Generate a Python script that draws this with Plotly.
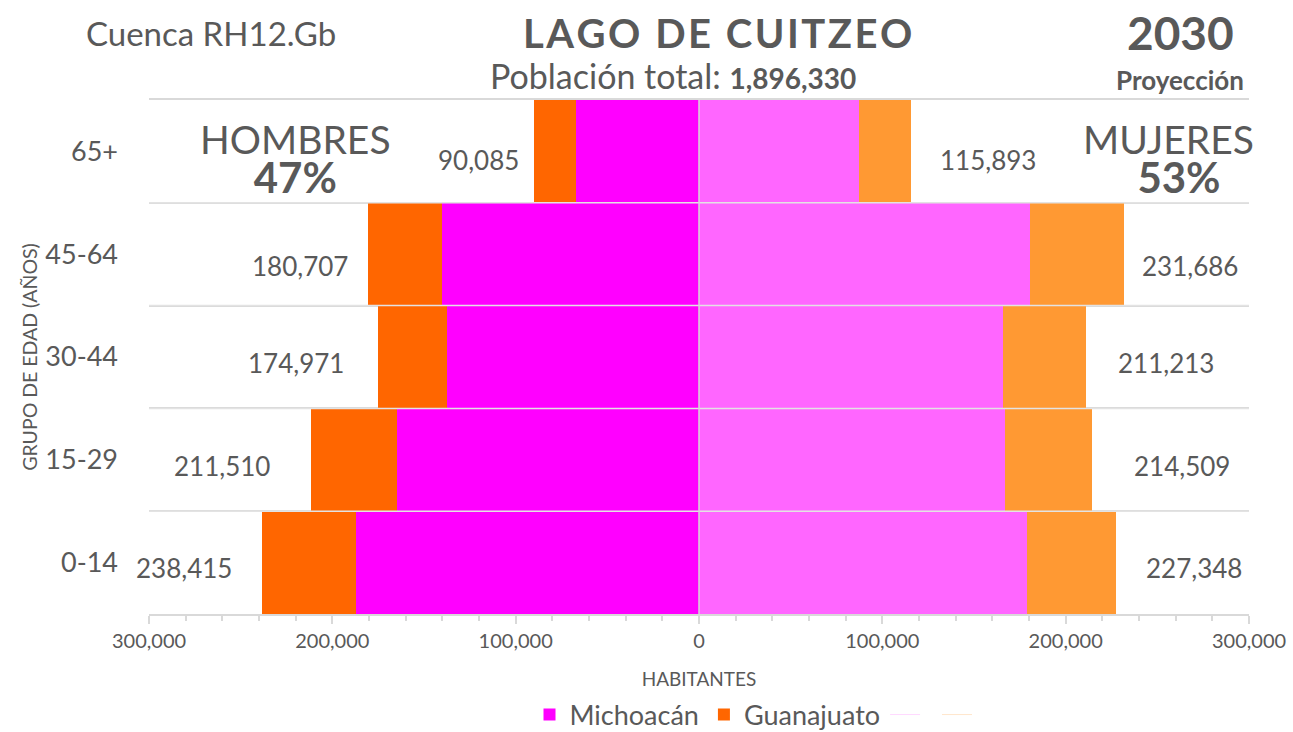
import plotly.graph_objects as go

# Age groups, bottom to top
age_groups = ["0-14", "15-29", "30-44", "45-64", "65+"]

# Men (drawn to the left)
men_michoacan = [187100, 164700, 137500, 140200, 67100]
men_guanajuato = [51315, 46810, 37471, 40507, 22985]
men_total = [238415, 211510, 174971, 180707, 90085]

# Women (drawn to the right)
women_michoacan = [178900, 166900, 165800, 180500, 87300]
women_guanajuato = [48448, 47609, 45413, 51186, 28593]
women_total = [227348, 214509, 211213, 231686, 115893]

tick_values = [-300000, -200000, -100000, 0, 100000, 200000, 300000]
tick_labels = ["300,000", "200,000", "100,000", "0", "100,000", "200,000", "300,000"]

GRAY = "#595959"
RULE = "#D9D9D9"
FONT = "Lato"

# plot area in pixels
W, H = 1293, 732
PX0, PX1, PY0, PY1 = 149, 1249, 100, 614


def px(x):
    return (x - PX0) / (PX1 - PX0)


def py(y):
    return (PY1 - y) / (PY1 - PY0)


fig = go.Figure()
fig.add_trace(go.Bar(y=age_groups, x=[-v for v in men_michoacan], orientation="h",
                     name="Michoacán", marker=dict(color="#FF00FF", line=dict(width=0)),
                     hoverinfo="skip"))
fig.add_trace(go.Bar(y=age_groups, x=[-v for v in men_guanajuato], orientation="h",
                     name="Guanajuato", marker=dict(color="#FF6600", line=dict(width=0)),
                     hoverinfo="skip"))
fig.add_trace(go.Bar(y=age_groups, x=women_michoacan, orientation="h",
                     name="", showlegend=False,
                     marker=dict(color="#FF66FF", line=dict(width=0)), hoverinfo="skip"))
fig.add_trace(go.Bar(y=age_groups, x=women_guanajuato, orientation="h",
                     name="", showlegend=False,
                     marker=dict(color="#FF9933", line=dict(width=0)), hoverinfo="skip"))
# faint unnamed legend entries
fig.add_trace(go.Scatter(x=[None], y=[None], mode="lines", name=" ",
                         line=dict(color="#FFD9FF", width=1)))
fig.add_trace(go.Scatter(x=[None], y=[None], mode="lines", name=" ",
                         line=dict(color="#FFE6CC", width=1)))

annotations = []

# total labels beside each bar
men_gap = [28, 39, 32, 18, 13]
women_gap = [28, 40, 30, 16, 27]
label_drop = [-5, -6, -6, -12, -9]
for i, g in enumerate(age_groups):
    annotations.append(dict(x=-men_total[i], y=g, xref="x", yref="y",
                            text=f"{men_total[i]:,}", showarrow=False,
                            xanchor="right", yanchor="middle",
                            xshift=-men_gap[i], yshift=label_drop[i],
                            font=dict(family=FONT, size=26, color=GRAY)))
    annotations.append(dict(x=women_total[i], y=g, xref="x", yref="y",
                            text=f"{women_total[i]:,}", showarrow=False,
                            xanchor="left", yanchor="middle",
                            xshift=women_gap[i], yshift=label_drop[i],
                            font=dict(family=FONT, size=26, color=GRAY)))


def note(text, x, y, size, bold=False):
    annotations.append(dict(text=f"<b>{text}</b>" if bold else text,
                            x=px(x), y=py(y), xref="paper", yref="paper",
                            xanchor="center", yanchor="middle", showarrow=False,
                            font=dict(family=FONT, size=size, color=GRAY)))


hs = "\u200a"


def spaced(word):
    return hs.join(list(word))


title = (hs + " " + hs).join(spaced(w) for w in ["LAGO", "DE", "CUITZEO"])
note("Cuenca RH12.Gb", 211, 33, 33)
note(title, 718, 33, 40, bold=True)
note("Población total: <span style='font-size:28px'><b>1,896,330</b></span>", 673, 76, 34)
note("2030", 1180, 32, 46, bold=True)
note("Proyección", 1180, 80, 26, bold=True)
# sex headings: name over share, two lines in one block
note("<span style='font-size:39px'>HOMBRES</span><br>"
     "<span style='font-size:42px'><b>47%</b></span>", 295, 159, 30)
note("<span style='font-size:39px'>MUJERES</span><br>"
     "<span style='font-size:42px'>\u2002<b>53%</b></span>", 1168, 159, 30)

# row separators and the centre divider, drawn over the bars
shapes = []
for k in range(1, len(age_groups)):
    shapes.append(dict(type="line", xref="paper", yref="y", x0=0, x1=1,
                       y0=k - 0.5, y1=k - 0.5, layer="above",
                       line=dict(color="#E3E3E3", width=1.5)))
shapes.append(dict(type="line", xref="x", yref="paper", x0=0, x1=0, y0=0, y1=1,
                   layer="above", line=dict(color="#D6D6D6", width=1.5)))

fig.update_layout(
    width=W, height=H,
    margin=dict(l=PX0, r=W - PX1, t=PY0, b=H - PY1),
    paper_bgcolor="white", plot_bgcolor="white",
    barmode="relative", bargap=0,
    font=dict(family=FONT, color=GRAY),
    showlegend=True,
    legend=dict(orientation="h", x=0.555, xanchor="center",
                yref="container", y=(H - 715) / H, yanchor="middle",
                font=dict(family=FONT, size=27, color=GRAY), itemwidth=30,
                traceorder="normal"),
    annotations=annotations,
    shapes=shapes,
    xaxis=dict(range=[-300000, 300000], tickvals=tick_values, ticktext=tick_labels,
               tickfont=dict(family=FONT, size=20, color=GRAY),
               showgrid=False, zeroline=False,
               showline=True, linecolor=RULE, linewidth=1.5, mirror=True,
               ticks="outside", ticklen=8, tickcolor=RULE, tickwidth=1.5,
               minor=dict(dtick=20000, ticks="outside", ticklen=5, tickcolor=RULE,
                          tickwidth=1.5, showgrid=False),
               title=dict(text="HABITANTES", standoff=27,
                          font=dict(family=FONT, size=19, color=GRAY)),
               automargin=False, fixedrange=True),
    yaxis=dict(type="category", categoryorder="array", categoryarray=age_groups,
               tickson="boundaries", showgrid=True, gridcolor=RULE, gridwidth=1.5,
               ticks="", ticklabelstandoff=30, showline=False,
               tickfont=dict(family=FONT, size=27, color=GRAY),
               title=dict(text="GRUPO DE EDAD (AÑOS)", standoff=2,
                          font=dict(family=FONT, size=19.5, color=GRAY)),
               automargin=False, fixedrange=True),
)

fig.write_html("out.html")
